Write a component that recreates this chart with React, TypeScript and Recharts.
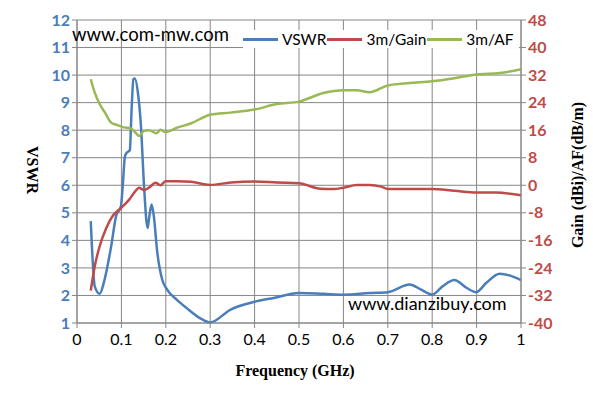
import React from "react"
import { LineChart, Line, XAxis, YAxis, CartesianGrid } from "recharts"

// VSWR (left axis)
const vswrFreq = [0.031, 0.04, 0.051, 0.062, 0.077, 0.088, 0.099, 0.103, 0.108, 0.112, 0.119, 0.123, 0.127, 0.13, 0.138, 0.144, 0.151, 0.159, 0.162, 0.168, 0.173, 0.181, 0.192, 0.203, 0.225, 0.247, 0.277, 0.3, 0.346, 0.4, 0.443, 0.5, 0.555, 0.6, 0.659, 0.7, 0.749, 0.775, 0.8, 0.824, 0.85, 0.877, 0.899, 0.922, 0.952, 0.974, 1.0]
const vswrValues = [4.7, 2.33, 2.06, 2.57, 3.79, 4.88, 5.24, 5.97, 7.06, 7.18, 7.28, 8.76, 9.85, 9.88, 9.25, 8.16, 5.97, 4.45, 4.76, 5.3, 4.88, 3.54, 2.57, 2.21, 1.84, 1.54, 1.18, 1.02, 1.49, 1.77, 1.91, 2.09, 2.06, 2.03, 2.09, 2.12, 2.4, 2.21, 2.03, 2.34, 2.56, 2.28, 2.12, 2.46, 2.79, 2.73, 2.56]

// 3m/Gain (right axis)
const gainFreq = [0.031, 0.04, 0.051, 0.066, 0.081, 0.099, 0.118, 0.129, 0.14, 0.151, 0.162, 0.177, 0.188, 0.199, 0.225, 0.257, 0.3, 0.346, 0.4, 0.45, 0.5, 0.548, 0.577, 0.6, 0.63, 0.659, 0.685, 0.7, 0.749, 0.8, 0.85, 0.9, 0.943, 1.0]
const gainValues = [-30.6, -23.5, -17.7, -12.4, -8.8, -6.6, -4.1, -2.1, -0.7, -1.4, -0.7, 0.7, 0, 1.2, 1.2, 1.0, 0.1, 0.8, 1.1, 0.8, 0.6, -1.0, -1.1, -0.7, 0.1, 0.1, -0.4, -1.1, -1.1, -1.1, -1.6, -2.1, -2.1, -2.9]

// 3m/AF (right axis)
const afFreq = [0.031, 0.04, 0.051, 0.062, 0.077, 0.088, 0.103, 0.121, 0.133, 0.14, 0.151, 0.162, 0.179, 0.188, 0.199, 0.225, 0.257, 0.3, 0.346, 0.4, 0.45, 0.5, 0.555, 0.6, 0.63, 0.659, 0.7, 0.749, 0.8, 0.85, 0.9, 0.952, 1.0]
const afValues = [30.8, 26.9, 23.6, 21.3, 18.2, 17.6, 16.9, 16.5, 15.1, 14.3, 15.8, 16.0, 15.1, 16.1, 15.5, 16.7, 18.0, 20.5, 21.1, 22.0, 23.6, 24.3, 26.8, 27.6, 27.6, 27.0, 29.0, 29.7, 30.2, 31.1, 32.2, 32.6, 33.7]

const xTicks = [0, 0.1, 0.2, 0.3, 0.4, 0.5, 0.6, 0.7, 0.8, 0.9, 1]
const leftTicks = [1, 2, 3, 4, 5, 6, 7, 8, 9, 10, 11, 12]
const rightTicks = [-40, -32, -24, -16, -8, 0, 8, 16, 24, 32, 40, 48]

const BLUE = "#4A7EBB"
const RED = "#BE4B48"
const GREEN = "#98B954"
const GRID = "#868686"

const vswrData = vswrFreq.map((f, i) => ({ f, v: vswrValues[i] }))
const gainData = gainFreq.map((f, i) => ({ f, v: gainValues[i] }))
const afData = afFreq.map((f, i) => ({ f, v: afValues[i] }))

const legendItems = [
  { name: "VSWR", color: BLUE },
  { name: "3m/Gain", color: RED },
  { name: "3m/AF", color: GREEN },
]

const tickFont = "Lato, 'Open Sans', sans-serif"
const titleFont = "'Liberation Serif', 'DejaVu Serif', serif"
const titleStyle = { fontFamily: titleFont, fontSize: 16, fontWeight: "bold" as const, fill: "#000" }

export default function App() {
  return (
    <div style={{ position: "absolute", left: 0, top: 0, width: 593, height: 404, background: "#fff" }}>
      <LineChart width={593} height={404} margin={{ top: 20, right: 32, bottom: 51, left: 37 }}>
        <CartesianGrid yAxisId="left" stroke={GRID} strokeWidth={1} />
        <XAxis
          dataKey="f"
          type="number"
          domain={[0, 1]}
          ticks={xTicks}
          height={30}
          allowDuplicatedCategory={false}
          tickFormatter={(v: number) => (v === 0 || v === 1 ? String(v) : v.toFixed(1))}
          stroke={GRID}
          tickSize={5}
          tick={{ fill: "#000", fontFamily: tickFont, fontSize: 16 }}
          tickMargin={6}
        />
        <YAxis
          yAxisId="left"
          domain={[1, 12]}
          ticks={leftTicks}
          width={40}
          stroke={GRID}
          tickSize={5}
          tick={{ fill: BLUE, fontFamily: tickFont, fontSize: 16, fontWeight: "bold" }}
        />
        <YAxis
          yAxisId="right"
          orientation="right"
          domain={[-40, 48]}
          ticks={rightTicks}
          width={40}
          stroke={GRID}
          tickSize={5}
          tick={{ fill: RED, fontFamily: tickFont, fontSize: 16, fontWeight: "bold" }}
        />
        <Line yAxisId="left" data={vswrData} dataKey="v" name="VSWR" type="monotone" stroke={BLUE} strokeWidth={2.5} dot={false} isAnimationActive={false} />
        <Line yAxisId="right" data={gainData} dataKey="v" name="3m/Gain" type="monotone" stroke={RED} strokeWidth={2.5} dot={false} isAnimationActive={false} />
        <Line yAxisId="right" data={afData} dataKey="v" name="3m/AF" type="monotone" stroke={GREEN} strokeWidth={2.5} dot={false} isAnimationActive={false} />
      </LineChart>

      <svg width={593} height={404} style={{ position: "absolute", left: 0, top: 0, pointerEvents: "none" }}>
        <text x={0} y={0} transform="translate(295,376)" textAnchor="middle" style={titleStyle}>Frequency (GHz)</text>
        <text x={0} y={0} transform="translate(27,170) rotate(90)" textAnchor="middle" style={titleStyle}>VSWR</text>
        <text x={0} y={0} transform="translate(583,175) rotate(-90)" textAnchor="middle" style={titleStyle}>Gain (dBi)/AF(dB/m)</text>
      </svg>

      <div style={{ position: "absolute", left: 243, top: 30, display: "flex", alignItems: "center", fontFamily: tickFont, fontSize: 15.5, color: "#000", background: "#fff", paddingRight: 4 }}>
        {legendItems.map((it) => (
          <div key={it.name} style={{ display: "flex", alignItems: "center", marginRight: 1 }}>
            <div style={{ width: 35, height: 3, background: it.color, marginRight: 4 }} />
            <span>{it.name}</span>
          </div>
        ))}
      </div>
      <div style={{ position: "absolute", left: 72, top: 23, fontFamily: tickFont, fontSize: 18.5, color: "#000" }}>www.com-mw.com</div>
      <div style={{ position: "absolute", left: 348, top: 292, fontFamily: tickFont, fontSize: 18, color: "#000" }}>www.dianzibuy.com</div>
    </div>
  )
}
